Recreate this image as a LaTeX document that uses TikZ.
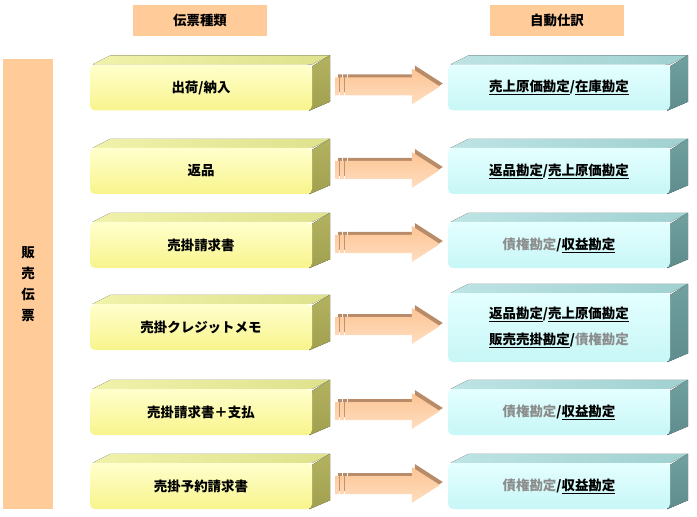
\documentclass[tikz,border=0pt]{standalone}
\usepackage{fontspec}
\setmainfont{Noto Sans CJK JP}
\usetikzlibrary{calc,backgrounds}
\definecolor{peach}{RGB}{255,204,153}
\definecolor{yTop}{RGB}{255,255,205}
\definecolor{yBot}{RGB}{248,244,140}
\definecolor{yRoof}{RGB}{222,226,140}
\definecolor{yRoofL}{RGB}{240,242,170}
\definecolor{ySide}{RGB}{178,178,95}
\definecolor{ySideD}{RGB}{160,160,80}
\definecolor{cTop}{RGB}{228,255,255}
\definecolor{cBot}{RGB}{200,246,246}
\definecolor{cRoof}{RGB}{160,208,208}
\definecolor{cRoofL}{RGB}{190,228,228}
\definecolor{cSide}{RGB}{112,160,160}
\definecolor{cSideD}{RGB}{95,140,140}
\definecolor{aTop}{RGB}{185,140,105}
\definecolor{aBodyT}{RGB}{252,196,148}
\definecolor{aBodyB}{RGB}{255,222,192}
\definecolor{gtext}{RGB}{140,140,140}
\newcommand\ulk[1]{\underline{#1}}
\newcommand\gk[1]{\textcolor{gtext}{#1}}
\tikzset{
  base/.style={font=\fontsize{13.5}{16}\selectfont\bfseries, text=black},
  hdr/.style={base, fill=peach, minimum width=134bp, minimum height=31bp, inner sep=0pt},
  sidebar/.style={base, fill=peach, minimum width=50bp, minimum height=450bp, inner sep=0pt, align=center,
    font=\fontsize{13.5}{21}\selectfont\bfseries},
  front/.style={base, rounded corners=5bp, minimum width=222bp, minimum height=46bp, inner sep=0pt, align=center},
  yfront/.style={front, top color=yTop, bottom color=yBot},
  cfront/.style={front, top color=cTop, bottom color=cBot},
  yroof/.style={left color=yRoofL, right color=yRoof},
  yside/.style={top color=ySide, bottom color=ySideD},
  croof/.style={left color=cRoofL, right color=cRoof},
  cside/.style={top color=cSide, bottom color=cSideD},
  arrtop/.style={fill=aTop},
  arrbody/.style={top color=aBodyT, bottom color=aBodyB},
}
\newcommand\boxfaces[3]{%
  \begin{pgfonlayer}{background}
    \fill[#2] ([xshift=3bp]#1.north west) -- ++(18bp,9bp) -- ($(#1.north east)+(18bp,9bp)$) -- (#1.north east) -- cycle;
    \fill[#3] ([yshift=-2bp]#1.north east) -- ++(18bp,11bp) -- ($(#1.south east)+(18bp,9bp)$) -- ([xshift=-3bp]#1.south east) -- cycle;
  \end{pgfonlayer}}
\newcommand\flowarrow[2]{%
  \foreach \dx/\dy/\sty in {3bp/3bp/arrtop, 0bp/0bp/arrbody}{
    \path[\sty] let \p1=($(#1.east)+(23bp+\dx,1bp+\dy)$), \p2=($(#2.west)+(-8bp+\dx,0bp)$) in
      (\x1,\y1+9bp) rectangle (\x1+4bp,\y1-9bp)
      (\x1+5bp,\y1+9bp) rectangle (\x1+9bp,\y1-9bp)
      (\x1+10bp,\y1+9bp) -- (\x2-28bp,\y1+9bp) -- (\x2-28bp,\y1+18bp) -- (\x2,\y1)
      -- (\x2-28bp,\y1-18bp) -- (\x2-28bp,\y1-9bp) -- (\x1+10bp,\y1-9bp) -- cycle;
  }}
\begin{document}
\begin{tikzpicture}[x=1bp,y=-1bp]
  \useasboundingbox (0,0) rectangle (697,517);
  \node[hdr] (h1) at (200,20.5) {伝票種類};
  \node[hdr] (h2) at (557,20.5) {自動仕訳};
  \node[sidebar] (bar) at (28,284) {販\\売\\伝\\票};

  \node[yfront] (y1) at (201,87.5) {出荷/納入};
  \node[yfront] (y2) at (201,171) {返品};
  \node[yfront] (y3) at (201,245) {売掛請求書};
  \node[yfront] (y4) at (201,327) {売掛クレジットメモ};
  \node[yfront] (y5) at (201,412) {売掛請求書＋支払};
  \node[yfront] (y6) at (201,486) {売掛予約請求書};

  \node[cfront] (c1) at (559,87.5) {\ulk{売上原価勘定}/\ulk{在庫勘定}};
  \node[cfront] (c2) at (559,171) {\ulk{返品勘定}/\ulk{売上原価勘定}};
  \node[cfront] (c3) at (559,245) {\gk{債権勘定}/\ulk{収益勘定}};
  \node[cfront, minimum height=69bp] (c4) at (559,327.5)
    {\ulk{返品勘定}/\ulk{売上原価勘定}\\[10bp]\ulk{販売売掛勘定}/\gk{債権勘定}};
  \node[cfront] (c5) at (559,412) {\gk{債権勘定}/\ulk{収益勘定}};
  \node[cfront] (c6) at (559,486) {\gk{債権勘定}/\ulk{収益勘定}};

  \foreach \i in {1,...,6}{
    \boxfaces{y\i}{yroof}{yside}
    \boxfaces{c\i}{croof}{cside}
    \flowarrow{y\i}{c\i}
  }
\end{tikzpicture}
\end{document}
